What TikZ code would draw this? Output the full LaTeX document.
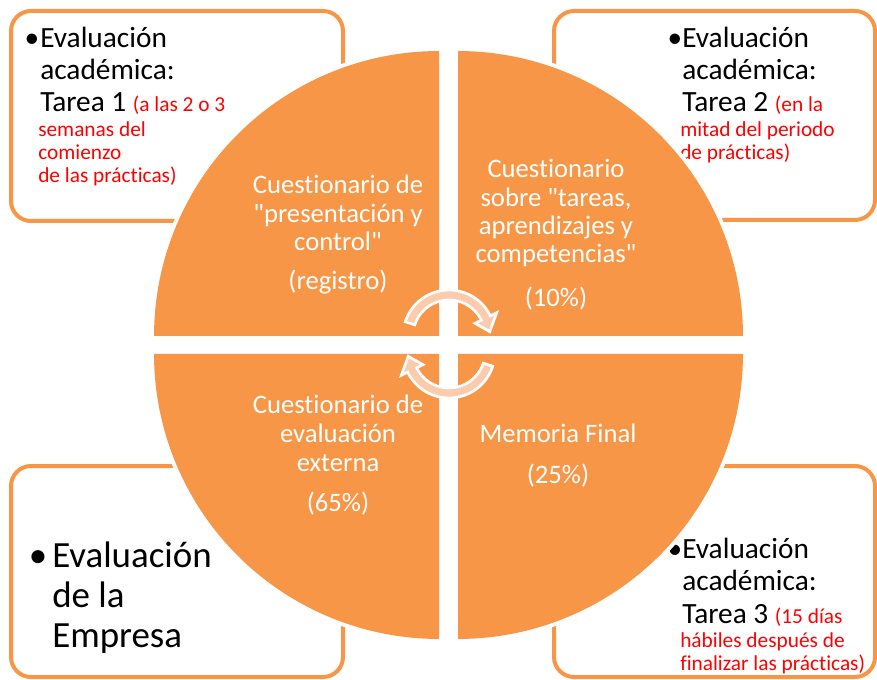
\documentclass[tikz,border=0pt]{standalone}
\usepackage{fontspec}
\setmainfont{Carlito}[Ligatures={NoCommon}]
\definecolor{orng}{RGB}{247,150,70}
\definecolor{peach}{RGB}{251,203,173}
\definecolor{redtxt}{RGB}{255,0,0}
\newcommand{\qq}{\textquotedbl}
\begin{document}
\begin{tikzpicture}[x=0.75pt,y=-0.75pt,
  boxframe/.style={draw=orng, line width=3pt, fill=white, rounded corners=15pt},
  btxt/.style={anchor=base west, inner sep=0pt, font=\fontsize{22}{25}\selectfont},
  bigtxt/.style={anchor=base west, inner sep=0pt, font=\fontsize{27.7}{30}\selectfont},
  rtxt/.style={anchor=base west, inner sep=0pt, text=redtxt, font=\fontsize{16}{19}\selectfont},
  wtxt/.style={anchor=base, inner sep=0pt, text=white, font=\fontsize{20}{23}\selectfont},
  halo/.style={draw=white, line width=6pt, fill=white},
  quad/.style={fill=orng},
  cyc/.style={fill=peach, draw=white, line width=2pt}
]
\useasboundingbox (0,0) rectangle (877,680);
% corner boxes
\draw[boxframe] (11,11) rectangle (343,221);
\draw[boxframe] (554,11) rectangle (875,220);
\draw[boxframe] (11,466) rectangle (343,677);
\draw[boxframe] (554,466) rectangle (875,677);
% top-left box text
\node[btxt, anchor=base] (tlb) at (32,48) {•};
\node[btxt] (tl1) at (40,48) {Evaluación};
\node[btxt] (tl2) at (40,80) {académica:};
\node[btxt] (tl3) at (40,112) {Tarea 1 {\color{redtxt}\fontsize{16}{19}\selectfont (a las 2 o 3}};
\node[rtxt] (tl4) at (38,137) {semanas del};
\node[rtxt] (tl5) at (38,160) {comienzo};
\node[rtxt] (tl6) at (38,183) {de las prácticas)};
% top-right box text
\node[btxt, anchor=base] (trb) at (675,48) {•};
\node[btxt] (tr1) at (682,48) {Evaluación};
\node[btxt] (tr2) at (682,80) {académica:};
\node[btxt] (tr3) at (682,112) {Tarea 2 {\color{redtxt}\fontsize{16}{19}\selectfont (en la}};
\node[rtxt] (tr4) at (680,137) {mitad del periodo};
\node[rtxt] (tr5) at (680,160) {de prácticas)};
% bottom-left box text
\node[bigtxt, anchor=base] (blb) at (38,567) {•};
\node[bigtxt] (bl1) at (52,567) {Evaluación};
\node[bigtxt] (bl2) at (52,607) {de la};
\node[bigtxt] (bl3) at (52,647) {Empresa};
% bottom-right box text
\node[btxt, anchor=base] (brb) at (675,558) {•};
\node[btxt] (br1) at (682,558) {Evaluación};
\node[btxt] (br2) at (682,590) {académica:};
\node[btxt] (br3) at (682,623) {Tarea 3 {\color{redtxt}\fontsize{16}{19}\selectfont (15 días}};
\node[rtxt] (br4) at (680,647) {hábiles después de};
\node[rtxt] (br5) at (680,670) {finalizar las prácticas)};
% quadrant halos
\path[halo] (439,336) -- plot[domain=180:270,samples=60] ({439+285*cos(\x)},{336+285*sin(\x)}) -- cycle;
\path[halo] (458,336) -- plot[domain=270:360,samples=60] ({458+285*cos(\x)},{336+285*sin(\x)}) -- cycle;
\path[halo] (458,354) -- plot[domain=0:90,samples=60] ({458+285*cos(\x)},{354+285*sin(\x)}) -- cycle;
\path[halo] (439,354) -- plot[domain=90:180,samples=60] ({439+285*cos(\x)},{354+285*sin(\x)}) -- cycle;
% quadrants
\path[quad] (439,336) -- plot[domain=180:270,samples=60] ({439+285*cos(\x)},{336+285*sin(\x)}) -- cycle;
\path[quad] (458,336) -- plot[domain=270:360,samples=60] ({458+285*cos(\x)},{336+285*sin(\x)}) -- cycle;
\path[quad] (458,354) -- plot[domain=0:90,samples=60] ({458+285*cos(\x)},{354+285*sin(\x)}) -- cycle;
\path[quad] (439,354) -- plot[domain=90:180,samples=60] ({439+285*cos(\x)},{354+285*sin(\x)}) -- cycle;
% quadrant texts
\node[wtxt] (q11) at (338,194) {Cuestionario de};
\node[wtxt] (q12) at (338,223) {\qq presentación y};
\node[wtxt] (q13) at (338,251) {control\qq};
\node[wtxt] (q14) at (338,290) {(registro)};
\node[wtxt] (q21) at (556,178) {Cuestionario};
\node[wtxt] (q22) at (556,207) {sobre \qq tareas,};
\node[wtxt] (q23) at (556,235) {aprendizajes y};
\node[wtxt] (q24) at (556,263) {competencias\qq};
\node[wtxt] (q25) at (556,307) {(10\%)};
\node[wtxt] (q31) at (338,413) {Cuestionario de};
\node[wtxt] (q32) at (338,442) {evaluación};
\node[wtxt] (q33) at (338,471) {externa};
\node[wtxt] (q34) at (338,511) {(65\%)};
\node[wtxt] (q41) at (558,442) {Memoria Final};
\node[wtxt] (q42) at (558,483) {(25\%)};
% cycle arrows
\filldraw[cyc] plot[domain=198:334,samples=40] ({449+46*cos(\x)},{336+46*sin(\x)})
  -- ({449+53*cos(334)},{336+53*sin(334)})
  -- ({449+41*cos(354)},{336+41*sin(354)})
  -- ({449+29*cos(334)},{336+29*sin(334)})
  -- plot[domain=334:198,samples=40] ({449+36*cos(\x)},{336+36*sin(\x)}) -- cycle;
\filldraw[cyc] plot[domain=18:154,samples=40] ({449+46*cos(\x)},{352+46*sin(\x)})
  -- ({449+53*cos(154)},{352+53*sin(154)})
  -- ({449+41*cos(174)},{352+41*sin(174)})
  -- ({449+29*cos(154)},{352+29*sin(154)})
  -- plot[domain=154:18,samples=40] ({449+36*cos(\x)},{352+36*sin(\x)}) -- cycle;
\end{tikzpicture}
\end{document}
